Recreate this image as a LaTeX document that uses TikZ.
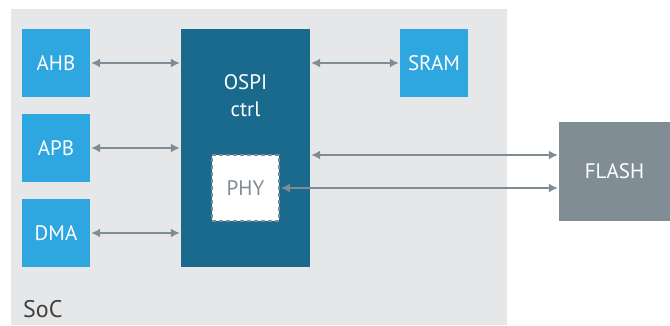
\documentclass[tikz,border=0pt]{standalone}
\usepackage{fontspec}
\setmainfont{PT Sans}
\usetikzlibrary{arrows.meta}

\definecolor{socgray}{HTML}{E6E7E9}
\definecolor{busblue}{HTML}{2EA6DF}
\definecolor{ctrlblue}{HTML}{1A6A8E}
\definecolor{flashgray}{HTML}{808D95}
\definecolor{linkgray}{HTML}{7F8C94}

\tikzset{
    boxfont/.style={font=\fontsize{21}{27}\selectfont},
    busbox/.style={fill=busblue, text=white, minimum width=68pt, minimum height=68pt, inner sep=0pt, boxfont},
    link/.style={draw=linkgray, line width=1.6pt, {Latex[length=9pt,width=9pt]}-{Latex[length=9pt,width=9pt]}, shorten <=1pt, shorten >=1pt}
}

\begin{document}
\begin{tikzpicture}[x=1pt, y=-1pt]
    \useasboundingbox (0,0) rectangle (670,325);
    \fill[socgray] (11,9) rectangle (507,325);
    \node[anchor=base west, font=\fontsize{24}{26}\selectfont, text=black!75, inner sep=0pt] (soc) at (23,317) {SoC};

    \node[busbox] (ahb) at (56,63) {AHB};
    \node[busbox] (apb) at (56,148) {APB};
    \node[busbox] (dma) at (56,233) {DMA};
    \node[busbox] (sram) at (434,63) {SRAM};

    \node[fill=ctrlblue, minimum width=129pt, minimum height=238pt, inner sep=0pt] (ctrl) at (245.5,148) {};
    \node[text=white, align=center, boxfont, anchor=base, inner sep=0pt] (ctrltext) at (245.5,116) {OSPI\\ctrl};
    \node[fill=white, draw=linkgray, line width=1.8pt, dash pattern=on 4pt off 3pt, minimum width=67pt, minimum height=66pt, inner sep=0pt, text=linkgray, boxfont] (phy) at (245.5,188) {PHY};

    \node[fill=flashgray, text=white, minimum width=111pt, minimum height=99pt, inner sep=0pt, boxfont] (flash) at (614.5,171.5) {FLASH};

    \draw[link] (ahb) -- (ahb -| ctrl.west);
    \draw[link] (apb) -- (apb -| ctrl.west);
    \draw[link] (dma) -- (dma -| ctrl.west);
    \draw[link] (ahb -| ctrl.east) -- (sram);
    \coordinate (flashtop) at ([yshift=16.5pt]flash.west);
    \draw[link] (flashtop -| ctrl.east) -- (flashtop);
    \draw[link] (phy.east) -- (phy.east -| flash.west);
\end{tikzpicture}
\end{document}
